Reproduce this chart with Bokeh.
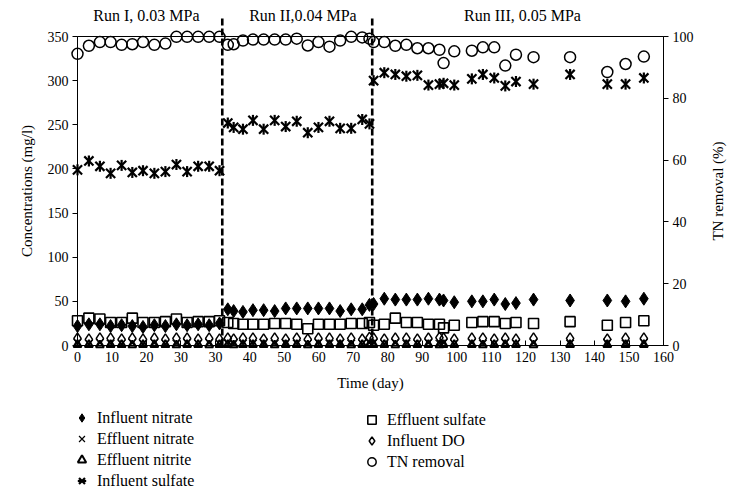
import math
from bokeh.plotting import figure
from bokeh.layouts import column
from bokeh.models import Range1d, LinearAxis, FixedTicker, Legend, LegendItem
from bokeh.core.properties import value
from bokeh.embed import file_html
from bokeh.resources import INLINE

FONT = "Liberation Serif"

# ---------------- data (x in the chart's own axis units) ----------------
days = [0, 3.3, 6.5, 9.6, 12.8, 15.9, 19.0, 22.3, 25.5, 28.7, 31.8, 35.0, 38.2, 41.2,
        43.6, 45.3, 48.0, 50.9, 54.0, 57.2, 60.4, 63.6, 66.8, 69.9, 73.1, 76.2, 79.4, 82.6, 84.7,
        85.9, 89.0, 92.2, 95.4, 98.6, 101.8, 105.0, 106.2, 109.3, 114.4, 117.6, 120.9, 124.1,
        127.2, 132.3, 142.9, 153.7, 159.0, 164.3]

influent_nitrate = [22, 24, 24, 22, 23, 22, 21, 23, 22, 24, 23, 24, 23, 25,
                    41, 39, 38, 40, 40, 39, 42, 42, 42, 42, 42, 39, 41, 41, 46,
                    47, 53, 52, 52, 52, 53, 52, 51, 49, 50, 50, 52, 47, 48, 52, 51, 51, 50, 53]

effluent_nitrate = [3, 2, 3, 2, 2, 3, 2, 3, 2, 2, 3, 2, 3, 2,
                    2, 3, 2, 2, 3, 2, 3, 2, 2, 3, 2, 3, 2, 2, 3,
                    3, 2, 3, 2, 2, 3, 2, 3, 2, 3, 2, 2, 3, 2, 3, 2, 3, 2, 3]

effluent_nitrite = [1, 1, 0.5, 1, 1, 0.5, 1, 1, 1, 0.5, 1, 1, 0.5, 1,
                    1, 0.5, 1, 1, 1, 0.5, 1, 1, 0.5, 1, 1, 1, 0.5, 1, 1,
                    1, 1, 0.5, 1, 1, 1, 0.5, 1, 1, 1, 0.5, 1, 1, 1, 0.5, 1, 1, 1, 1]

influent_sulfate = [199, 209, 203, 195, 204, 196, 198, 195, 197, 205, 197, 203, 203, 198,
                    252, 247, 245, 255, 245, 255, 248, 254, 241, 247, 254, 246, 246, 256, 251,
                    300, 309, 307, 305, 306, 295, 296, 297, 295, 302, 307, 303, 294, 299, 296,
                    307, 296, 296, 303]

effluent_sulfate = [28, 31, 30, 26, 26, 31, 26, 26, 27, 30, 26, 27, 27, 28,
                    26, 25, 24, 24, 24, 25, 25, 24, 19, 24, 24, 24, 25, 25, 26,
                    23, 24, 31, 26, 26, 24, 24, 20, 23, 26, 27, 27, 25, 26, 25, 27, 23, 26, 28]

influent_do = [8, 7, 8, 8, 7, 8, 7, 8, 7, 8, 8, 7, 8, 7,
               8, 7, 8, 8, 7, 8, 7, 8, 7, 8, 8, 7, 8, 7, 9,
               8, 7, 8, 8, 7, 8, 9, 8, 7, 8, 8, 7, 8, 7, 8, 8, 7, 8, 8]

tn_removal = [94.4, 97.0, 98.2, 98.2, 97.3, 97.5, 98.2, 97.3, 97.7, 99.9, 99.9, 99.9, 99.9, 99.9,
              97.3, 97.5, 98.7, 99.0, 99.0, 99.0, 99.0, 99.3, 97.1, 98.2, 96.7, 98.7, 99.9, 99.7, 99.3,
              98.2, 98.2, 97.0, 97.3, 96.2, 96.2, 95.7, 91.4, 95.2, 95.4, 96.5, 96.5, 90.6, 94.1,
              93.3, 93.3, 88.5, 91.1, 93.5]

x_ticks = [0, 10, 20, 30, 40, 50, 60, 70, 80, 90, 100, 110, 120, 130, 140, 150, 160, 170]
x_tick_labels = ["0", "10", "20", "30", "30", "40", "50", "60", "70", "80", "90",
                 "100", "110", "120", "130", "140", "150", "160"]
left_ticks = [0, 50, 100, 150, 200, 250, 300, 350]
right_ticks = [0, 20, 40, 60, 80, 100]

run_boundaries = [42.0, 85.5]
run_labels = ["Run I, 0.03 MPa", "Run II,0.04 MPa", "Run III, 0.05 MPa"]
run_label_x = [20.0, 65.4, 129.1]

legend_left = ["Influent nitrate", "Effluent nitrate", "Effluent nitrite", "Influent sulfate"]
legend_right = ["Effluent sulfate", "Influent DO", "TN removal"]

# ---------------- layout constants (pixels) ----------------
W, H_MAIN, H_LEG = 735, 400, 95
FL, FR, FT, FB = 77, 663, 36, 345          # frame edges of the main plot
X0, X1, Y0, Y1 = 0, 170, 0, 350

def px_to_x(px):
    return X0 + (px - FL) / (FR - FL) * (X1 - X0)

def py_to_y(py):
    return Y0 + (FB - py) / (FB - FT) * (Y1 - Y0)

# ---------------- main figure ----------------
p = figure(width=W, height=H_MAIN, output_backend="svg", toolbar_location=None,
           x_range=Range1d(X0, X1), y_range=Range1d(Y0, Y1),
           min_border_left=FL, min_border_right=W - FR, min_border_top=FT,
           min_border_bottom=H_MAIN - FB)
p.extra_y_ranges = {"tn": Range1d(0, 100)}
p.xgrid.visible = False
p.ygrid.visible = False
p.outline_line_color = "black"
p.outline_line_alpha = 1
p.background_fill_color = "white"
p.border_fill_color = "white"

def style_axis(ax):
    ax.axis_line_color = "black"
    ax.major_tick_line_color = "black"
    ax.minor_tick_line_color = None
    ax.major_label_text_font = FONT
    ax.major_label_text_font_size = "14px"
    ax.major_label_text_color = "black"
    ax.axis_label_text_font = FONT
    ax.axis_label_text_font_size = "15px"
    ax.axis_label_text_font_style = "normal"
    ax.axis_label_text_color = "black"

xa = p.xaxis[0]
style_axis(xa)
xa.ticker = FixedTicker(ticks=x_ticks)
xa.major_label_overrides = {t: l for t, l in zip(x_ticks, x_tick_labels)}
xa.major_tick_in = 5
xa.major_tick_out = 0
xa.major_label_standoff = 6
xa.axis_label = "Time (day)"
xa.axis_label_standoff = 10

ya = p.yaxis[0]
style_axis(ya)
ya.ticker = FixedTicker(ticks=left_ticks)
ya.major_tick_in = 0
ya.major_tick_out = 5
ya.major_label_standoff = 4
ya.axis_label = "Concentrations (mg/l)"
ya.axis_label_standoff = 10

ra = LinearAxis(y_range_name="tn", ticker=FixedTicker(ticks=right_ticks))
style_axis(ra)
ra.major_tick_in = 0
ra.major_tick_out = 5
ra.major_label_standoff = 4
p.add_layout(ra, "right")

# right axis title and run headings as text glyphs (drawn unclipped)
p.text(x=[px_to_x(717)], y=[175], text=["TN removal (%)"], angle=math.pi / 2,
       text_align="center", text_baseline="middle", level="overlay",
       text_font=value(FONT), text_font_size="15px", text_color="black")
p.text(x=run_label_x, y=[py_to_y(15)] * 3, text=run_labels,
       text_align="center", text_baseline="middle", level="overlay",
       text_font=value(FONT), text_font_size="16px", text_color="black")

# run boundaries
p.segment(x0=run_boundaries, y0=[0, 0], x1=run_boundaries, y1=[py_to_y(17)] * 2,
          line_color="black", line_width=2.6, line_dash="7 3", level="overlay")

# ---------------- series ----------------
STY = {
    "Effluent sulfate": dict(marker="square", fill_color=None, line_width=1.6),
    "Influent nitrate": dict(marker="diamond", fill_color="black", line_width=1),
    "Influent DO": dict(marker="diamond", fill_color=None, line_width=1.5),
    "Effluent nitrate": dict(marker="x", line_width=1.2),
    "Effluent nitrite": dict(marker="triangle", fill_color=None, line_width=2),
    "Influent sulfate": dict(marker="x", line_width=2.2),
    "TN removal": dict(marker="circle", fill_color=None, line_width=1.5),
}
SIZE = {"Effluent sulfate": 10, "Influent nitrate": 13, "Influent DO": 11,
        "Effluent nitrate": 11, "Effluent nitrite": 8, "Influent sulfate": 13,
        "TN removal": 11}
SERIES = {
    "Effluent sulfate": (effluent_sulfate, "default"),
    "Influent nitrate": (influent_nitrate, "default"),
    "Influent DO": (influent_do, "default"),
    "Effluent nitrate": (effluent_nitrate, "default"),
    "Effluent nitrite": (effluent_nitrite, "default"),
    "Influent sulfate": (influent_sulfate, "default"),
    "TN removal": (tn_removal, "tn"),
}

for name, (vals, yr) in SERIES.items():
    p.scatter(days, vals, y_range_name=yr, size=SIZE[name], line_color="black",
              level="overlay", **STY[name])
    if name == "Influent sulfate":
        p.scatter(days, vals, marker="dash", size=11, angle=math.pi / 2,
                  line_color="black", line_width=2.2, level="overlay")

# ---------------- legend strip below the plot ----------------
q = figure(width=W, height=H_LEG, output_backend="svg", toolbar_location=None,
           x_range=Range1d(0, 1), y_range=Range1d(0, 1),
           x_axis_type=None, y_axis_type=None,
           min_border_left=0, min_border_right=0, min_border_top=0, min_border_bottom=0)
q.outline_line_color = None
q.background_fill_color = "white"
q.border_fill_color = "white"

# legend proxies: one point each, placed outside the strip's visible range
proxy = {}
for name in legend_left + legend_right:
    rs = [q.scatter([-5], [-5], line_color="black", **STY[name])]
    if name == "Influent sulfate":
        rs.append(q.scatter([-5], [-5], marker="dash", line_color="black", line_width=2.2))
    proxy[name] = rs

def make_legend(names, loc, standoff):
    return Legend(items=[LegendItem(label=n, renderers=proxy[n]) for n in names],
                  location=loc, orientation="vertical", padding=0, margin=0, spacing=0,
                  glyph_width=21, glyph_height=21, label_height=21,
                  label_standoff=standoff, border_line_color=None,
                  background_fill_alpha=0, label_text_font=FONT,
                  label_text_font_size="16px", label_text_color="black")

# the strip's frame is aligned with the main frame (left edge at FL)
q.add_layout(make_legend(legend_left, (71 - FL, 4), 5))
q.add_layout(make_legend(legend_right, (361 - FL, 23), 5))

open("out.html", "w").write(file_html(column(p, q, spacing=0), INLINE))
